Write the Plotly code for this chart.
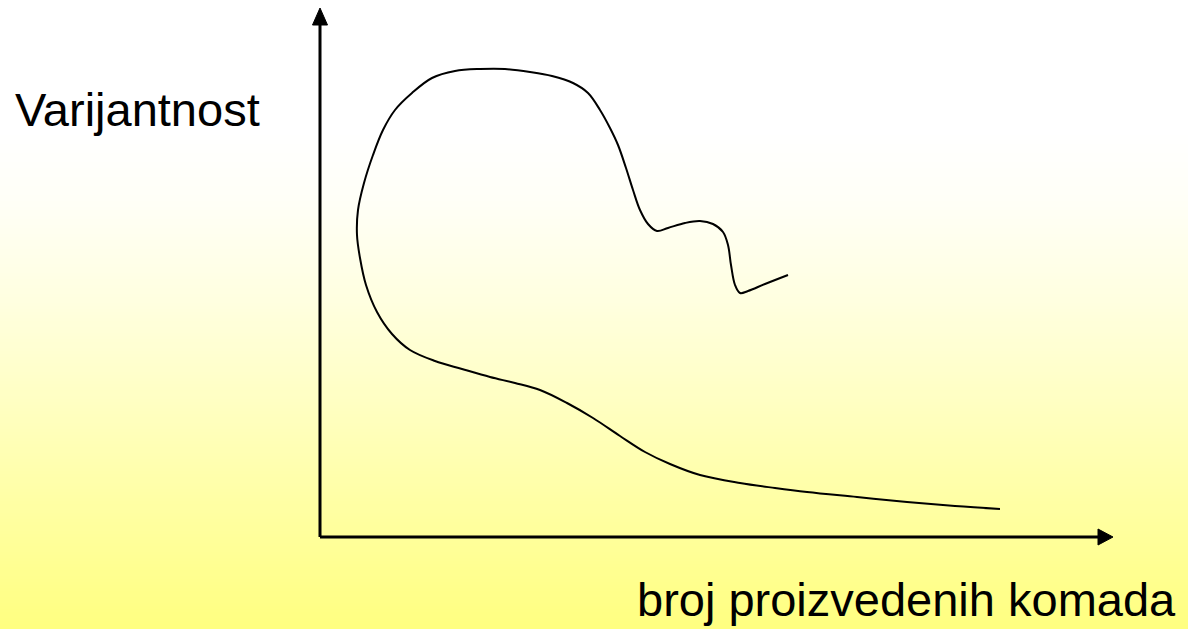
import plotly.graph_objects as go

# Curve (x: count produced, y: variability), arbitrary units
curve_x = [468, 445, 428, 420, 415, 411, 408, 403, 393, 380, 365, 348, 337, 328, 320, 313,
           306, 298, 290, 280, 268, 253, 232, 210, 185, 160, 135, 112, 92, 75, 63, 53, 44,
           38, 37, 40, 46, 57, 72, 90, 115, 142, 170, 195, 220, 247, 273, 300, 325, 350,
           380, 420, 455, 487, 537, 587, 635, 680]
curve_y = [262, 253, 246, 244, 252, 272, 292, 305, 313, 316, 314, 309, 306, 313, 327, 347,
           369, 392, 409, 427, 444, 454, 461, 465, 468, 468, 466, 459, 444, 427, 407, 382, 354,
           327, 302, 279, 252, 225, 203, 187, 176, 168, 160, 154, 147, 134, 119, 101, 85, 73,
           62, 54, 49, 45, 40, 35, 31, 28]

y_label = "Varijantnost"
x_label = "broj proizvedenih komada"

W, H = 1188, 629

fig = go.Figure()
fig.add_trace(go.Scatter(x=curve_x, y=curve_y, mode="lines",
                         line=dict(color="black", width=2, shape="spline", smoothing=1.0),
                         hoverinfo="skip", showlegend=False))

shapes = []
# gradient background (white -> yellow)
stops = [(0, 255), (130, 255), (200, 247), (300, 224), (400, 195), (500, 165), (629, 128)]
def blue_at(py):
    for (a, ca), (b, cb) in zip(stops[:-1], stops[1:]):
        if a <= py <= b:
            return ca + (cb - ca) * (py - a) / (b - a)
    return stops[-1][1]
step = 3
for py in range(0, H, step):
    bval = int(round(blue_at(py + step / 2)))
    shapes.append(dict(type="rect", xref="paper", yref="paper", x0=0, x1=1,
                       y0=1 - (py + step) / H, y1=1 - py / H,
                       fillcolor=f"rgb(255,255,{bval})", line=dict(width=0), layer="below"))

# axes with arrowheads
shapes.append(dict(type="line", xref="x", yref="y", x0=0, y0=0, x1=0, y1=515,
                   line=dict(color="black", width=3)))
shapes.append(dict(type="path", xref="x", yref="y", path="M -7.5,512 L 7.5,512 L 0,529 Z",
                   fillcolor="black", line=dict(color="black", width=1)))
shapes.append(dict(type="line", xref="x", yref="y", x0=0, y0=0, x1=780, y1=0,
                   line=dict(color="black", width=3)))
shapes.append(dict(type="path", xref="x", yref="y", path="M 778,8 L 778,-8 L 793,0 Z",
                   fillcolor="black", line=dict(color="black", width=1)))

fig.update_layout(
    width=W, height=H,
    margin=dict(l=0, r=0, t=0, b=0),
    paper_bgcolor="white",
    plot_bgcolor="rgba(0,0,0,0)",
    xaxis=dict(range=[-320, 868], visible=False, fixedrange=True),
    yaxis=dict(range=[-92, 537], visible=False, fixedrange=True),
    shapes=shapes,
    annotations=[
        dict(x=-307, y=428, xref="x", yref="y", text=y_label, showarrow=False,
             xanchor="left", yanchor="middle",
             font=dict(family="Liberation Sans, Arial", size=47, color="black")),
        dict(x=315, y=-62, xref="x", yref="y", text=x_label, showarrow=False,
             xanchor="left", yanchor="middle",
             font=dict(family="Liberation Sans, Arial", size=47, color="black")),
    ],
)

fig.write_html("out.html", config={"displayModeBar": False},
               post_script="document.body.style.margin='0px';document.body.style.overflow='hidden';")
